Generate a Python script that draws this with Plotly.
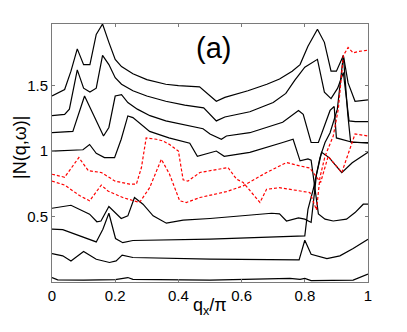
import plotly.graph_objects as go

# q_x/pi positions and |N(q,w)| values, one pair per curve
b1_q = [0, 0.04, 0.06, 0.08, 0.10, 0.12, 0.14, 0.16, 0.18, 0.20, 0.22, 0.256, 0.30, 0.36, 0.40, 0.467, 0.52,
        0.547, 0.62, 0.68, 0.72, 0.76, 0.785, 0.81, 0.84, 0.862, 0.883, 0.90, 0.922, 0.937, 0.959, 1.0]
b1_v = [1.42, 1.47, 1.61, 1.78, 1.66, 1.66, 1.89, 1.97, 1.83, 1.70, 1.645, 1.59, 1.545, 1.51, 1.50, 1.49, 1.38,
        1.41, 1.46, 1.51, 1.55, 1.61, 1.66, 1.80, 1.93, 1.83, 1.61, 1.61, 1.73, 1.52, 1.38, 1.39]

b2_q = [0, 0.04, 0.055, 0.08, 0.10, 0.12, 0.14, 0.16, 0.18, 0.20, 0.22, 0.256, 0.30, 0.36, 0.42, 0.48, 0.52,
        0.547, 0.626, 0.70, 0.74, 0.768, 0.80, 0.84, 0.862, 0.883, 0.904, 0.922, 0.94, 0.96, 1.0]
b2_v = [1.27, 1.28, 1.32, 1.62, 1.48, 1.45, 1.48, 1.73, 1.66, 1.56, 1.51, 1.46, 1.42, 1.38, 1.35, 1.33, 1.23,
        1.26, 1.30, 1.37, 1.44, 1.54, 1.64, 1.70, 1.45, 1.40, 1.48, 1.60, 1.23, 1.225, 1.225]

b3_q = [0, 0.066, 0.103, 0.163, 0.18, 0.20, 0.22, 0.24, 0.27, 0.31, 0.36, 0.415, 0.478, 0.50, 0.536, 0.552,
        0.626, 0.73, 0.78, 0.795, 0.82, 0.843, 0.864, 0.88, 0.893, 0.90, 0.953, 1.0]
b3_v = [1.14, 1.15, 1.42, 1.115, 1.18, 1.42, 1.43, 1.37, 1.32, 1.27, 1.23, 1.20, 1.17, 1.13, 1.09, 1.115,
        1.14, 1.22, 1.31, 1.28, 1.065, 1.065, 1.20, 1.31, 1.34, 1.10, 1.065, 1.065]

b4_q = [0, 0.098, 0.119, 0.14, 0.166, 0.198, 0.219, 0.24, 0.256, 0.309, 0.37, 0.436, 0.46, 0.52, 0.545, 0.626,
        0.73, 0.763, 0.785, 0.81, 0.82, 0.843, 0.864, 0.89, 0.932, 0.959, 0.985, 1.0]
b4_v = [1.0, 1.01, 1.05, 0.983, 0.95, 0.95, 1.09, 1.268, 1.255, 1.15, 1.10, 1.06, 0.96, 1.0, 0.96, 0.99,
        1.065, 1.09, 0.925, 0.94, 0.93, 0.52, 0.48, 0.466, 0.48, 0.53, 0.594, 0.594]

b5_q = [0, 0.06, 0.119, 0.142, 0.155, 0.18, 0.219, 0.24, 0.261, 0.288, 0.32, 0.362, 0.415, 0.5, 0.695, 0.72,
        0.742, 0.78, 0.80, 0.82, 0.837, 0.853, 0.877, 0.917, 0.95, 1.0]
b5_v = [0.563, 0.586, 0.518, 0.46, 0.466, 0.576, 0.485, 0.505, 0.645, 0.594, 0.505, 0.449, 0.472, 0.485, 0.525,
        0.52, 0.466, 0.49, 0.48, 0.455, 0.82, 0.99, 0.95, 0.835, 0.91, 0.99]

b6_q = [0, 0.034, 0.14, 0.161, 0.18, 0.201, 0.224, 0.256, 0.5, 0.785, 0.80, 0.81, 0.827, 0.848, 0.864, 0.88,
        0.903, 0.922, 0.936, 0.945, 1.0]
b6_v = [0.403, 0.40, 0.306, 0.403, 0.525, 0.332, 0.30, 0.317, 0.327, 0.347, 0.352, 0.555, 0.71, 0.95, 1.065,
        1.14, 1.32, 1.73, 1.28, 1.07, 1.06]

b7_q = [0, 0.034, 0.06, 0.10, 0.14, 0.182, 0.203, 0.222, 0.256, 0.5, 0.782, 0.80, 0.82, 0.87, 0.911, 0.953, 1.0]
b7_v = [0.217, 0.20, 0.161, 0.233, 0.174, 0.149, 0.161, 0.205, 0.187, 0.174, 0.169, 0.319, 0.212, 0.179, 0.20,
        0.256, 0.327]

b8_q = [0, 0.018, 0.1, 0.2, 0.24, 0.256, 0.5, 0.753, 0.785, 0.80, 0.82, 0.953, 1.0]
b8_v = [0.034, 0.016, 0.015, 0.018, 0.034, 0.02, 0.015, 0.027, 0.02, 0.027, 0.01, 0.015, 0.06]

r1_q = [0, 0.04, 0.085, 0.115, 0.156, 0.2, 0.246, 0.267, 0.283, 0.298, 0.33, 0.351, 0.372, 0.40, 0.415, 0.43,
        0.468, 0.557, 0.584, 0.605, 0.658, 0.679, 0.72, 0.753, 0.816, 0.837, 0.848, 0.864, 0.89, 0.906, 0.922,
        0.937, 0.953, 0.97, 1.0]
r1_v = [0.823, 0.80, 0.95, 0.85, 0.836, 0.77, 0.747, 0.747, 0.874, 1.10, 1.09, 1.077, 1.05, 1.0, 0.78, 0.77,
        0.836, 0.874, 0.785, 0.76, 0.607, 0.708, 0.72, 0.708, 0.683, 0.55, 0.80, 0.96, 1.115, 1.32, 1.73,
        1.79, 1.75, 1.76, 1.77]

r2_q = [0, 0.04, 0.087, 0.119, 0.156, 0.177, 0.224, 0.256, 0.277, 0.309, 0.346, 0.372, 0.404, 0.425, 0.468,
        0.552, 0.605, 0.679, 0.742, 0.785, 0.816, 0.85, 0.874, 0.917, 0.959, 1.0]
r2_v = [0.77, 0.74, 0.66, 0.62, 0.74, 0.695, 0.645, 0.625, 0.607, 0.72, 0.937, 0.823, 0.62, 0.607, 0.645,
        0.69, 0.734, 0.836, 0.912, 0.886, 0.87, 0.76, 0.96, 0.836, 1.13, 1.115]

x_ticks = [0, 0.2, 0.4, 0.6, 0.8, 1]
x_labels = ["0", "0.2", "0.4", "0.6", "0.8", "1"]
y_ticks = [0.5, 1, 1.5]
y_labels = ["0.5", "1", "1.5"]

crne = [(b1_q, b1_v), (b2_q, b2_v), (b3_q, b3_v), (b4_q, b4_v),
        (b5_q, b5_v), (b6_q, b6_v), (b7_q, b7_v), (b8_q, b8_v)]
crvene = [(r1_q, r1_v), (r2_q, r2_v)]

FONT = "Liberation Sans, Arial, Helvetica, sans-serif"

fig = go.Figure()
for q, v in crne:
    fig.add_trace(go.Scatter(x=q, y=v, mode="lines", line=dict(color="black", width=1.2)))
for q, v in crvene:
    fig.add_trace(go.Scatter(x=q, y=v, mode="lines", line=dict(color="red", width=1.2, dash="3px,2px")))

osa = dict(showgrid=False, zeroline=False, showline=True, linecolor="#7a7a7a", linewidth=1,
           mirror="ticks", ticks="inside", ticklen=3, tickcolor="#7a7a7a",
           tickfont=dict(family=FONT, size=15, color="black"))

fig.update_xaxes(range=[0, 1], tickvals=x_ticks, ticktext=x_labels, **osa)
fig.update_yaxes(range=[0, 1.97], tickvals=y_ticks, ticktext=y_labels, **osa)

fig.add_annotation(x=0.51, y=1.79, xref="x", yref="y", text="(a)", showarrow=False,
                   font=dict(family=FONT, size=29, color="black"))
fig.add_annotation(x=0.50, y=-0.095, xref="paper", yref="paper", text="q<sub>x</sub>/π", showarrow=False,
                   yanchor="middle", font=dict(family=FONT, size=18, color="black"))
fig.add_annotation(x=-0.101, y=0.52, xref="paper", yref="paper", text="|N(q,ω)|", showarrow=False,
                   textangle=-90, xanchor="center", font=dict(family=FONT, size=18, color="black"))

# stranica u pregledaču ima marginu od 8px, pa je slika za toliko manja i pomerena
fig.update_layout(width=399, height=324, showlegend=False,
                  margin=dict(l=44, r=39, t=16, b=50),
                  paper_bgcolor="white", plot_bgcolor="white")

fig.write_html("out.html")
